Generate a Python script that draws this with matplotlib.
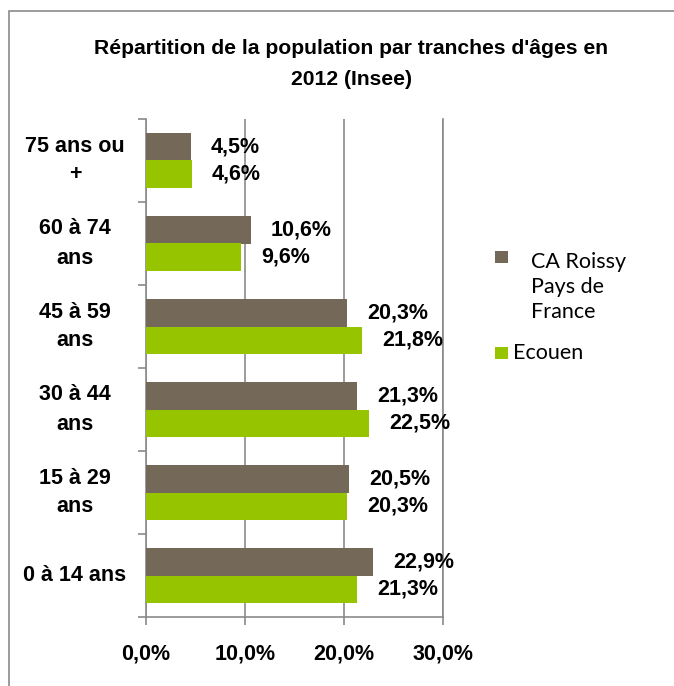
import matplotlib
matplotlib.use("Agg")
import matplotlib.pyplot as plt
from matplotlib.patches import Rectangle
from matplotlib import transforms
import numpy as np

categories = ["0 à 14 ans", "15 à 29\nans", "30 à 44\nans", "45 à 59\nans", "60 à 74\nans", "75 ans ou\n+"]
roissy = [22.9, 20.5, 21.3, 20.3, 10.6, 4.5]
ecouen = [21.3, 20.3, 22.5, 21.8, 9.6, 4.6]
series_names = ["CA Roissy\nPays de\nFrance", "Ecouen"]
xticks = [0, 10, 20, 30]
xtick_labels = ["0,0%", "10,0%", "20,0%", "30,0%"]
title = "Répartition de la population par tranches d'âges en\n2012 (Insee)"

c_brown = "#746959"
c_green = "#96C500"
gray = "#8a8a8a"
narrow = ["Liberation Sans", "DejaVu Sans"]
fs = 15.5
W, H = 674, 686
fig = plt.figure(figsize=(W/100, H/100), dpi=100)
fig.patches.append(Rectangle((9/W, -0.05), 1.1, 1 - 11/H + 0.05, transform=fig.transFigure,
                             fill=False, edgecolor=gray, linewidth=1.2))

ax = fig.add_axes([146/W, (H-617)/H, (443-146)/W, (617-119)/H])
y = np.arange(len(categories))
h = 0.33
ax.barh(y + h/2, roissy, height=h, color=c_brown, zorder=3)
ax.barh(y - h/2, ecouen, height=h, color=c_green, zorder=3)
for i in range(len(categories)):
    ax.annotate(f"{roissy[i]:.1f}%".replace(".", ","), (roissy[i], y[i] + h/2), xytext=(14.5, 0),
                textcoords="offset points", va="center", ha="left", fontsize=fs,
                fontweight="bold", family=narrow)
    ax.annotate(f"{ecouen[i]:.1f}%".replace(".", ","), (ecouen[i], y[i] - h/2), xytext=(14.5, 0),
                textcoords="offset points", va="center", ha="left", fontsize=fs,
                fontweight="bold", family=narrow)

ax.set_xlim(0, 30)
ax.set_ylim(-0.5, len(categories) - 0.5)
ax.set_xticks(xticks)
ax.set_xticklabels(xtick_labels, fontsize=fs, fontweight="bold", family=narrow)
ax.set_yticks(np.arange(-0.5, len(categories), 1.0))
ax.set_yticklabels([])
ax.tick_params(axis="y", length=6, color=gray, width=1.2)
ax.tick_params(axis="x", length=6, color=gray, width=1.2, pad=13)
ax.grid(axis="x", color=gray, linewidth=1.2, zorder=0)
ax.set_axisbelow(True)
ax.spines["top"].set_visible(False)
for s in ["left", "bottom", "right"]:
    ax.spines[s].set_color(gray)
    ax.spines[s].set_linewidth(1.2)

tr = transforms.blended_transform_factory(fig.transFigure, ax.transData)
for i, c in enumerate(categories):
    ax.text(75/W, y[i], c, transform=tr, ha="center", va="center", multialignment="center",
            fontsize=fs, fontweight="bold", family=narrow, linespacing=1.5)

fig.text(351/W, 1 - 64/H, title, ha="center", va="center", fontsize=15.2, fontweight="bold",
         family=narrow, linespacing=1.75)

# legend
fig.patches.append(Rectangle((495/W, 1 - 263/H), 13/W, 12/H, transform=fig.transFigure,
                             facecolor=c_brown, edgecolor="none"))
fig.text(531/W, 1 - 287/H, series_names[0], ha="left", va="center", fontsize=15.5,
         family=["Lato", "DejaVu Sans"], linespacing=1.3)
fig.patches.append(Rectangle((495/W, 1 - 359/H), 13/W, 12/H, transform=fig.transFigure,
                             facecolor=c_green, edgecolor="none"))
fig.text(513/W, 1 - 353/H, series_names[1], ha="left", va="center", fontsize=15.5,
         family=["Lato", "DejaVu Sans"])

fig.savefig("out.png", dpi=100)
